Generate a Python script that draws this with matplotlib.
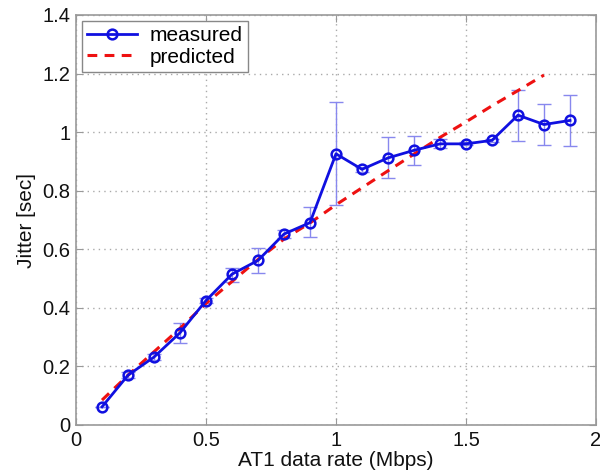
import matplotlib
matplotlib.use("Agg")
import matplotlib.pyplot as plt
import numpy as np

plt.rcParams['font.family'] = ['Liberation Sans', 'DejaVu Sans']

# AT1 data rate (Mbps)
rate = [0.1, 0.2, 0.3, 0.4, 0.5, 0.6, 0.7, 0.8, 0.9, 1.0,
        1.1, 1.2, 1.3, 1.4, 1.5, 1.6, 1.7, 1.8, 1.9]
# measured jitter (sec) and the lower / upper ends of its error bars
measured = [0.062, 0.17, 0.232, 0.315, 0.425, 0.515, 0.562, 0.652, 0.691, 0.926,
            0.873, 0.912, 0.938, 0.960, 0.960, 0.972, 1.058, 1.026, 1.040]
err_low = [0.062, 0.16, 0.222, 0.280, 0.415, 0.490, 0.520, 0.640, 0.642, 0.750,
           0.865, 0.843, 0.889, 0.947, 0.955, 0.965, 0.969, 0.955, 0.952]
err_high = [0.062, 0.18, 0.242, 0.350, 0.435, 0.535, 0.605, 0.665, 0.743, 1.102,
            0.880, 0.982, 0.988, 0.978, 0.965, 0.978, 1.145, 1.097, 1.127]

# predicted jitter (sec)
pred_rate = [0.1, 0.2, 0.3, 0.4, 0.5, 0.6, 0.7, 0.8, 0.9,
             1.0, 1.1, 1.2, 1.3, 1.4, 1.5, 1.6, 1.7, 1.8]
predicted = [0.085, 0.17, 0.25, 0.33, 0.415, 0.49, 0.565, 0.635, 0.69,
             0.752, 0.81, 0.868, 0.925, 0.982, 1.035, 1.09, 1.142, 1.195]

x_ticks = [0, 0.5, 1, 1.5, 2]
x_tick_labels = ['0', '0.5', '1', '1.5', '2']
y_ticks = [0, 0.2, 0.4, 0.6, 0.8, 1.0, 1.2, 1.4]
y_tick_labels = ['0', '0.2', '0.4', '0.6', '0.8', '1', '1.2', '1.4']

fig = plt.figure(figsize=(6.0, 4.75), dpi=100)
ax = fig.add_axes([76 / 600, 50 / 475, 520 / 600, 410 / 475])

m = np.array(measured)
yerr = np.vstack([m - np.array(err_low), np.array(err_high) - m])
ax.errorbar(rate, measured, yerr=yerr, fmt='none', ecolor='#8888ee',
            elinewidth=1.0, capsize=5, capthick=1.0, zorder=2)
ax.plot(pred_rate, predicted, color='#ee1111', linestyle=(0, (3.2, 2.4)),
        linewidth=2.2, label='predicted', zorder=3)
ax.plot(rate, measured, color='#1010e0', linewidth=2.0, marker='o',
        markersize=7, markerfacecolor='none', markeredgecolor='#1010e0',
        markeredgewidth=1.8, label='measured', zorder=4)

ax.set_xlim(0, 2)
ax.set_ylim(0, 1.4)
ax.set_xticks(x_ticks)
ax.set_xticklabels(x_tick_labels)
ax.set_yticks(y_ticks)
ax.set_yticklabels(y_tick_labels)
ax.tick_params(direction='in', length=5, color='#999999', labelsize=14.5,
               labelcolor='#111111', top=True, right=True, pad=4)
ax.grid(True, color='#aaaaaa', linestyle=(0, (1, 3)), linewidth=1.0)
for sp in ax.spines.values():
    sp.set_color('#999999')
    sp.set_linewidth(1.2)

ax.set_xlabel('AT1 data rate (Mbps)', fontsize=15, color='#111111', labelpad=1)
ax.set_ylabel('Jitter [sec]', fontsize=15, color='#111111', labelpad=5)

handles, labels = ax.get_legend_handles_labels()
leg = ax.legend(handles[::-1], labels[::-1], loc='upper left', fontsize=15,
                frameon=True, fancybox=False, borderaxespad=0.3,
                handlelength=2.4, borderpad=0.25, labelspacing=0.1,
                handletextpad=0.6)
leg.get_frame().set_edgecolor('#888888')
leg.get_frame().set_linewidth(1.0)
leg.get_frame().set_alpha(1.0)

fig.savefig('out.png', dpi=100)
